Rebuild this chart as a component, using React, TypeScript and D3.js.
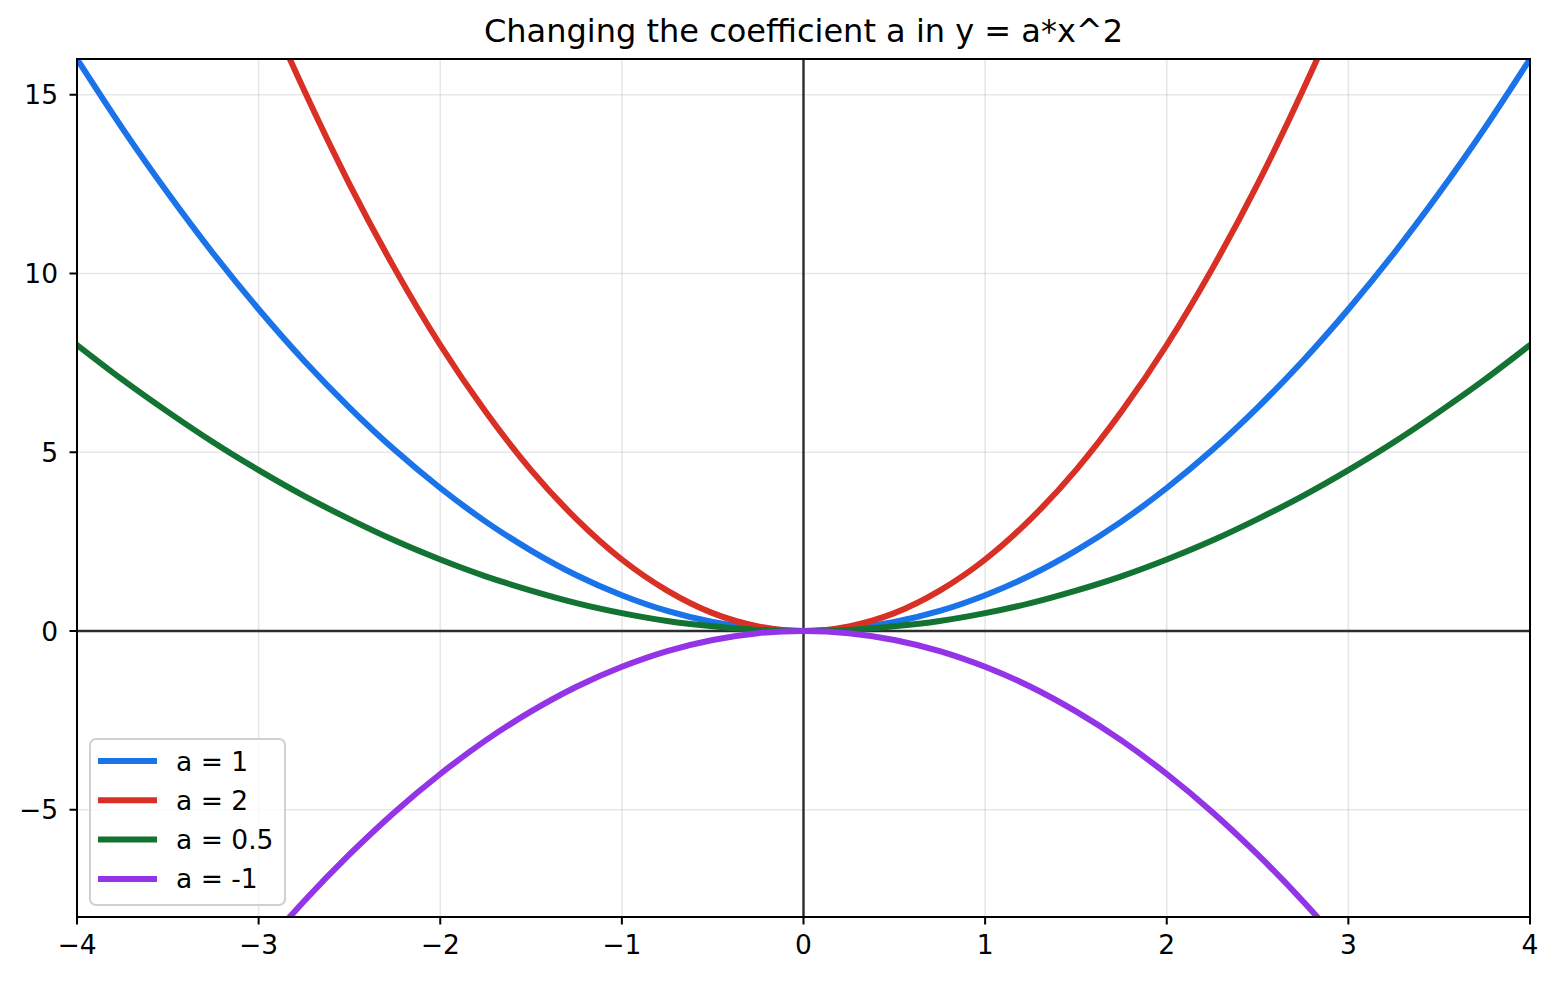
import React from "react";
import * as d3 from "d3";

const TITLE = "Changing the coefficient a in y = a*x^2";
const xs = [-4, -3.75, -3.5, -3.25, -3, -2.75, -2.5, -2.25, -2, -1.75, -1.5, -1.25, -1, -0.75, -0.5, -0.25, 0, 0.25, 0.5, 0.75, 1, 1.25, 1.5, 1.75, 2, 2.25, 2.5, 2.75, 3, 3.25, 3.5, 3.75, 4];
const yA1 = [16, 14.06, 12.25, 10.56, 9, 7.56, 6.25, 5.06, 4, 3.06, 2.25, 1.56, 1, 0.56, 0.25, 0.06, 0, 0.06, 0.25, 0.56, 1, 1.56, 2.25, 3.06, 4, 5.06, 6.25, 7.56, 9, 10.56, 12.25, 14.06, 16];
const yA2 = [32, 28.13, 24.5, 21.13, 18, 15.13, 12.5, 10.13, 8, 6.13, 4.5, 3.13, 2, 1.13, 0.5, 0.13, 0, 0.13, 0.5, 1.13, 2, 3.13, 4.5, 6.13, 8, 10.13, 12.5, 15.13, 18, 21.13, 24.5, 28.13, 32];
const yA05 = [8, 7.03, 6.13, 5.28, 4.5, 3.78, 3.13, 2.53, 2, 1.53, 1.13, 0.78, 0.5, 0.28, 0.13, 0.03, 0, 0.03, 0.13, 0.28, 0.5, 0.78, 1.13, 1.53, 2, 2.53, 3.13, 3.78, 4.5, 5.28, 6.13, 7.03, 8];
const yAm1 = [-16, -14.06, -12.25, -10.56, -9, -7.56, -6.25, -5.06, -4, -3.06, -2.25, -1.56, -1, -0.56, -0.25, -0.06, 0, -0.06, -0.25, -0.56, -1, -1.56, -2.25, -3.06, -4, -5.06, -6.25, -7.56, -9, -10.56, -12.25, -14.06, -16];
const seriesLabels = ["a = 1", "a = 2", "a = 0.5", "a = -1"];
const seriesColors = ["#1a73e8", "#d93025", "#137333", "#9334e6"];
const seriesValues = [yA1, yA2, yA05, yAm1];
const xTicks = [-4, -3, -2, -1, 0, 1, 2, 3, 4];
const yTicks = [-5, 0, 5, 10, 15];

const W = 1558, H = 982;
const L = 77, R = 1530, T = 59, B = 917;
const FONT = "'DejaVu Sans', sans-serif";

const fmt = (v: number) => (v < 0 ? "\u2212" + Math.abs(v) : String(v));

export default function App() {
  const x = d3.scaleLinear().domain([-4, 4]).range([L, R]);
  const y = d3.scaleLinear().domain([-8, 16]).range([B, T]);
  const line = d3
    .line<number>()
    .x((_, i) => x(xs[i]))
    .y((d) => y(d))
    .curve(d3.curveNatural);

  return (
    <svg
      width={W}
      height={H}
      style={{ position: "absolute", left: 0, top: 0, background: "#fff" }}
      fontFamily={FONT}
    >
      <rect x={0} y={0} width={W} height={H} fill="#fff" />
      <defs>
        <clipPath id="plot">
          <rect x={L} y={T} width={R - L} height={B - T} />
        </clipPath>
      </defs>
      {/* grid */}
      <g stroke="#b0b0b0" strokeOpacity={0.3} strokeWidth={1.6}>
        {xTicks.map((t) => (
          <line key={"gx" + t} x1={x(t)} x2={x(t)} y1={T} y2={B} />
        ))}
        {yTicks.map((t) => (
          <line key={"gy" + t} x1={L} x2={R} y1={y(t)} y2={y(t)} />
        ))}
      </g>
      {/* zero axes */}
      <g stroke="#222" strokeWidth={2.4} strokeOpacity={0.95}>
        <line x1={x(0)} x2={x(0)} y1={T} y2={B} />
        <line x1={L} x2={R} y1={y(0)} y2={y(0)} />
      </g>
      {/* curves */}
      <g clipPath="url(#plot)" fill="none" strokeWidth={6} strokeLinecap="square">
        {seriesValues.map((vals, i) => (
          <path key={i} d={line(vals) || ""} stroke={seriesColors[i]} />
        ))}
      </g>
      {/* spines */}
      <rect x={L} y={T} width={R - L} height={B - T} fill="none" stroke="#000" strokeWidth={2} />
      {/* ticks */}
      <g fontSize={26.5} fill="#000">
        {xTicks.map((t) => (
          <g key={"xt" + t}>
            <line x1={x(t)} x2={x(t)} y1={B} y2={B + 7.5} stroke="#000" strokeWidth={2} />
            <text x={x(t)} y={B + 36.5} textAnchor="middle">
              {fmt(t)}
            </text>
          </g>
        ))}
        {yTicks.map((t) => (
          <g key={"yt" + t}>
            <line x1={L - 7.5} x2={L} y1={y(t)} y2={y(t)} stroke="#000" strokeWidth={2} />
            <text x={L - 19} y={y(t) + 9.5} textAnchor="end">
              {fmt(t)}
            </text>
          </g>
        ))}
      </g>
      {/* title */}
      <text x={(L + R) / 2} y={42} textAnchor="middle" fontSize={32} fill="#000">
        {TITLE}
      </text>
      {/* legend */}
      <g>
        <rect x={90} y={739} width={195} height={166} rx={6} fill="#fff" fillOpacity={0.8} stroke="#d0d0d0" strokeWidth={2} />
        {seriesLabels.map((lab, i) => {
          const cy = 761 + i * 39.3;
          return (
            <g key={lab}>
              <line x1={98} x2={157} y1={cy} y2={cy} stroke={seriesColors[i]} strokeWidth={6} />
              <text x={176} y={cy + 9.5} fontSize={26.5} fill="#000">
                {lab}
              </text>
            </g>
          );
        })}
      </g>
    </svg>
  );
}
